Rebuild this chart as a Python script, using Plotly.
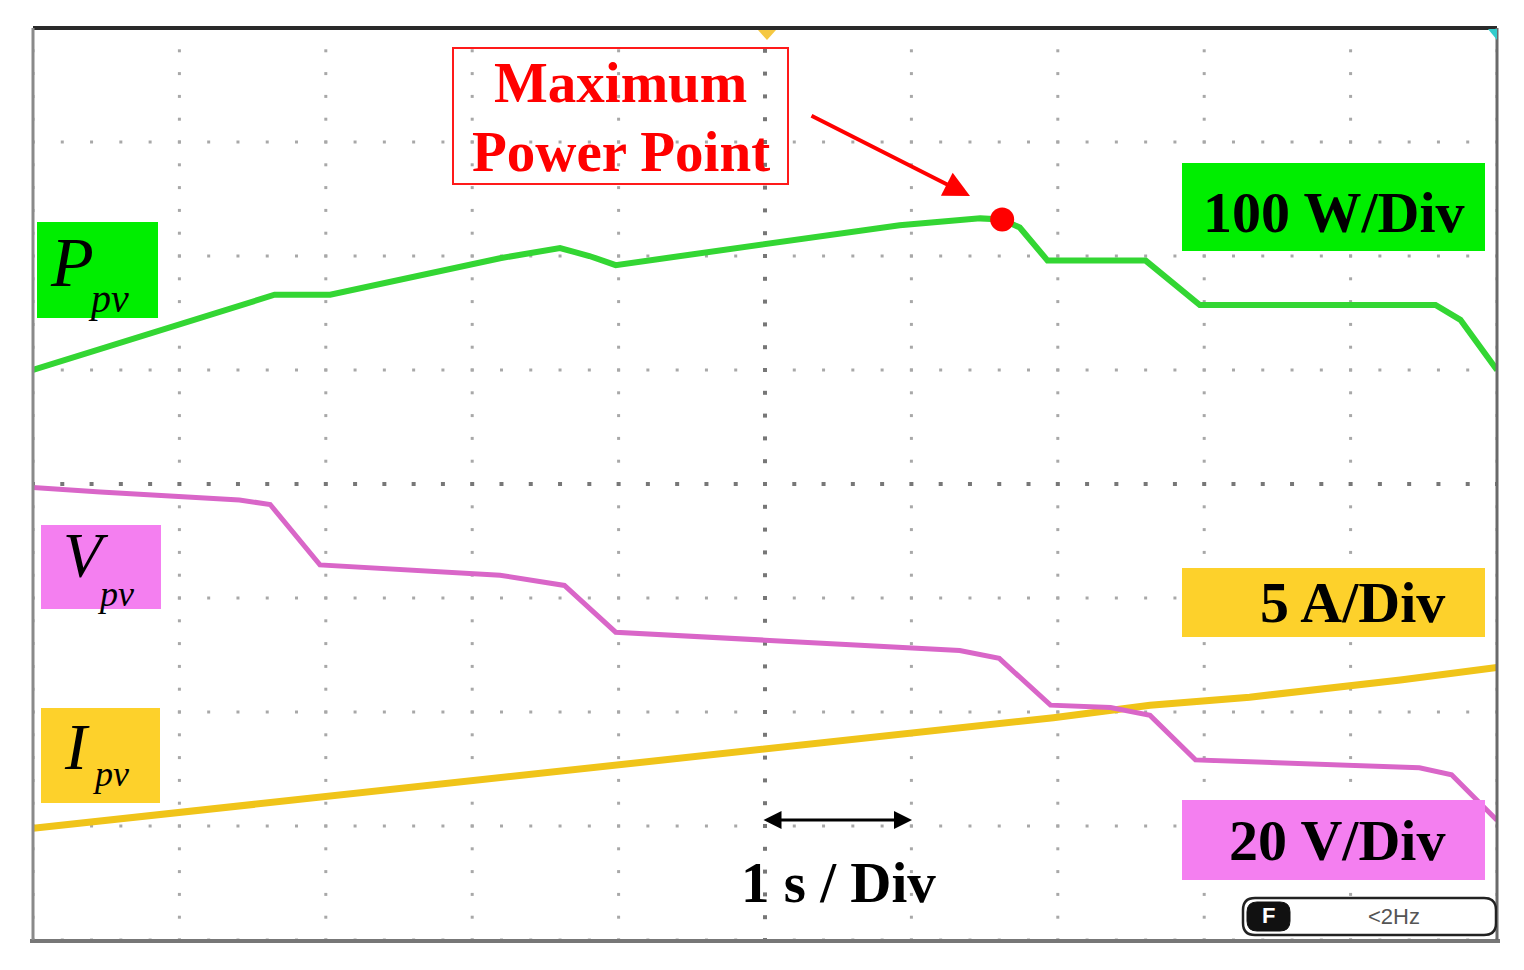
import numpy as np
import plotly.graph_objects as go

# ---- data (divisions: x 0..10, y 0..8) ----
t_p = [0, 1.65, 2.03, 3.19, 3.6, 3.8, 3.98, 4.15, 5.0, 5.92, 6.47, 6.62, 6.74, 6.93, 7.6, 7.97, 9.58, 9.75, 10]
p_pv = [5.0, 5.66, 5.66, 5.98, 6.07, 6.0, 5.92, 5.95, 6.1, 6.27, 6.33, 6.32, 6.25, 5.96, 5.96, 5.57, 5.57, 5.44, 5.0]

t_v = [0, 0.46, 1.41, 1.62, 1.96, 3.19, 3.63, 3.98, 5.0, 6.33, 6.6, 6.95, 7.36, 7.63, 7.94, 9.47, 9.69, 10]
v_pv = [3.97, 3.93, 3.86, 3.82, 3.29, 3.2, 3.11, 2.7, 2.63, 2.54, 2.47, 2.06, 2.04, 1.97, 1.58, 1.51, 1.45, 1.05]

t_i = [0, 1.14, 2.51, 3.87, 5.0, 6.26, 6.97, 7.63, 8.31, 9.34, 10]
i_pv = [0.98, 1.14, 1.32, 1.51, 1.67, 1.86, 1.95, 2.06, 2.13, 2.28, 2.39]

mpp_t = [6.62]
mpp_p = [6.32]

# ---- pixel helpers for layout placement ----
L, R, T, B = 33, 1497, 28, 940
OFF = 8  # page body margin
def X(px):
    return (px - L) / ((R - L) / 10)
def Y(py):
    return (B - py) / ((B - T) / 8)

fig = go.Figure()

# grid dots
gx, gy = [], []
cx, cy = [], []
for j in range(9):
    for k in range(51):
        (cx if j == 4 else gx).append(k / 5)
        (cy if j == 4 else gy).append(j)
for i in range(11):
    for k in range(41):
        (cx if i == 5 else gx).append(i)
        (cy if i == 5 else gy).append(k / 5)
fig.add_trace(go.Scatter(x=gx, y=gy, mode="markers",
                         marker=dict(symbol="square", size=3, color="#a8a8a8"),
                         hoverinfo="skip", showlegend=False))
fig.add_trace(go.Scatter(x=cx, y=cy, mode="markers",
                         marker=dict(symbol="square", size=4, color="#777777"),
                         hoverinfo="skip", showlegend=False))

# traces
fig.add_trace(go.Scatter(x=t_i, y=i_pv, mode="lines",
                         line=dict(color="#f0c419", width=7), showlegend=False))
fig.add_trace(go.Scatter(x=t_v, y=v_pv, mode="lines",
                         line=dict(color="#d966c8", width=5), showlegend=False))
fig.add_trace(go.Scatter(x=t_p, y=p_pv, mode="lines",
                         line=dict(color="#33d633", width=6), showlegend=False))
fig.add_trace(go.Scatter(x=mpp_t, y=mpp_p, mode="markers",
                         marker=dict(color="#ff0000", size=24), showlegend=False))

shapes = []
def box(x0, y0, x1, y1, color, line=None, lw=0):
    shapes.append(dict(type="rect", xref="x", yref="y",
                       x0=X(x0), x1=X(x1), y0=Y(y0), y1=Y(y1),
                       fillcolor=color, line=dict(color=line or color, width=lw), layer="above"))

GREEN, PINK, YEL = "#00ee00", "#f47ff0", "#fdd12b"
box(37, 222, 158, 318, GREEN)
box(41, 525, 161, 609, PINK)
box(41, 708, 160, 803, YEL)
box(1182, 163, 1485, 251, GREEN)
box(1182, 568, 1485, 637, YEL)
box(1182, 800, 1485, 880, PINK)
box(453, 48, 788, 184, "rgba(255,255,255,0)", line="#ff1a1a", lw=2)

# frame
def seg(x0, y0, x1, y1, color, w):
    shapes.append(dict(type="line", xref="paper", yref="paper",
                       x0=(x0 - L) / (R - L), x1=(x1 - L) / (R - L),
                       y0=(B - y0) / (B - T), y1=(B - y1) / (B - T),
                       line=dict(color=color, width=w)))
seg(33, 28, 1497, 28, "#2a2a2a", 4)
seg(30, 941, 1500, 941, "#777777", 4)
seg(33, 28, 33, 940, "#8a8a8a", 3)
seg(1497, 28, 1497, 940, "#6a6a6a", 3)

# trigger / corner indicators
shapes.append(dict(type="path", xref="x", yref="y",
                   path=f"M{X(758)},{Y(30)} L{X(776)},{Y(30)} L{X(767)},{Y(40)} Z",
                   fillcolor="#f5c842", line=dict(width=0), layer="above"))
shapes.append(dict(type="path", xref="x", yref="y",
                   path=f"M{X(1488)},{Y(29)} L{X(1497)},{Y(29)} L{X(1497)},{Y(40)} Z",
                   fillcolor="#33cccc", line=dict(width=0), layer="above"))

# F <2Hz rounded box
def rrect(x0, y0, x1, y1, r):
    return (f"M{X(x0+r)},{Y(y0)} L{X(x1-r)},{Y(y0)} Q{X(x1)},{Y(y0)} {X(x1)},{Y(y0+r)} "
            f"L{X(x1)},{Y(y1-r)} Q{X(x1)},{Y(y1)} {X(x1-r)},{Y(y1)} L{X(x0+r)},{Y(y1)} "
            f"Q{X(x0)},{Y(y1)} {X(x0)},{Y(y1-r)} L{X(x0)},{Y(y0+r)} Q{X(x0)},{Y(y0)} {X(x0+r)},{Y(y0)} Z")
shapes.append(dict(type="path", xref="x", yref="y", path=rrect(1243, 898, 1496, 935, 12),
                   fillcolor="white", line=dict(color="#222222", width=2.5), layer="above"))
shapes.append(dict(type="path", xref="x", yref="y", path=rrect(1247, 902, 1290, 931, 10),
                   fillcolor="#111111", line=dict(color="#111111", width=1), layer="above"))

fig.update_layout(shapes=shapes)

ann = []
def txt(px, py, s, size, color="black", family="Liberation Serif", bold=True, italic=False):
    if italic:
        s = f"<i>{s}</i>"
    if bold:
        s = f"<b>{s}</b>"
    ann.append(dict(x=X(px), y=Y(py), xref="x", yref="y", text=s, showarrow=False,
                    font=dict(size=size, color=color, family=family),
                    xanchor="center", yanchor="middle"))

txt(620, 82, "Maximum", 57, color="#ff0000")
txt(621, 151, "Power Point", 57, color="#ff0000")
txt(1334, 212, "100 W/Div", 58)
txt(1352, 602, "5 A/Div", 58)
txt(1337, 840, "20 V/Div", 58)
txt(838, 882, "1 s / Div", 57)
txt(72, 262, "P", 70, bold=False, italic=True)
txt(108, 298, "pv", 40, bold=False, italic=True)
txt(86, 555, "V", 64, bold=False, italic=True)
txt(115, 594, "pv", 36, bold=False, italic=True)
txt(77, 746, "I", 66, bold=False, italic=True)
txt(110, 774, "pv", 36, bold=False, italic=True)
txt(1268, 915, "F", 22, color="white", family="Liberation Sans", bold=True)
txt(1394, 916, "<2Hz", 22, color="#555555", family="Liberation Sans", bold=False)

# arrows
ann.append(dict(x=X(970), y=Y(196), ax=X(810), ay=Y(115), xref="x", yref="y",
                axref="x", ayref="y", text="", showarrow=True, arrowhead=2,
                arrowsize=1.3, arrowwidth=4, arrowcolor="#ff0000"))
ann.append(dict(x=X(912), y=Y(820), ax=X(762), ay=Y(820), xref="x", yref="y",
                axref="x", ayref="y", text="", showarrow=True, arrowhead=2, startarrowhead=2,
                arrowside="end+start", arrowsize=1.2, startarrowsize=1.2,
                arrowwidth=3, arrowcolor="#000000"))
fig.update_layout(annotations=ann)

fig.update_layout(
    width=1524, height=970,
    margin=dict(l=L - OFF, r=1524 - R + OFF, t=T - OFF, b=970 - B + OFF),
    paper_bgcolor="white", plot_bgcolor="white",
    xaxis=dict(range=[0, 10], showgrid=False, zeroline=False, showticklabels=False,
               ticks="", showline=False, fixedrange=True),
    yaxis=dict(range=[0, 8], showgrid=False, zeroline=False, showticklabels=False,
               ticks="", showline=False, fixedrange=True),
    showlegend=False,
)

fig.write_html("out.html")
